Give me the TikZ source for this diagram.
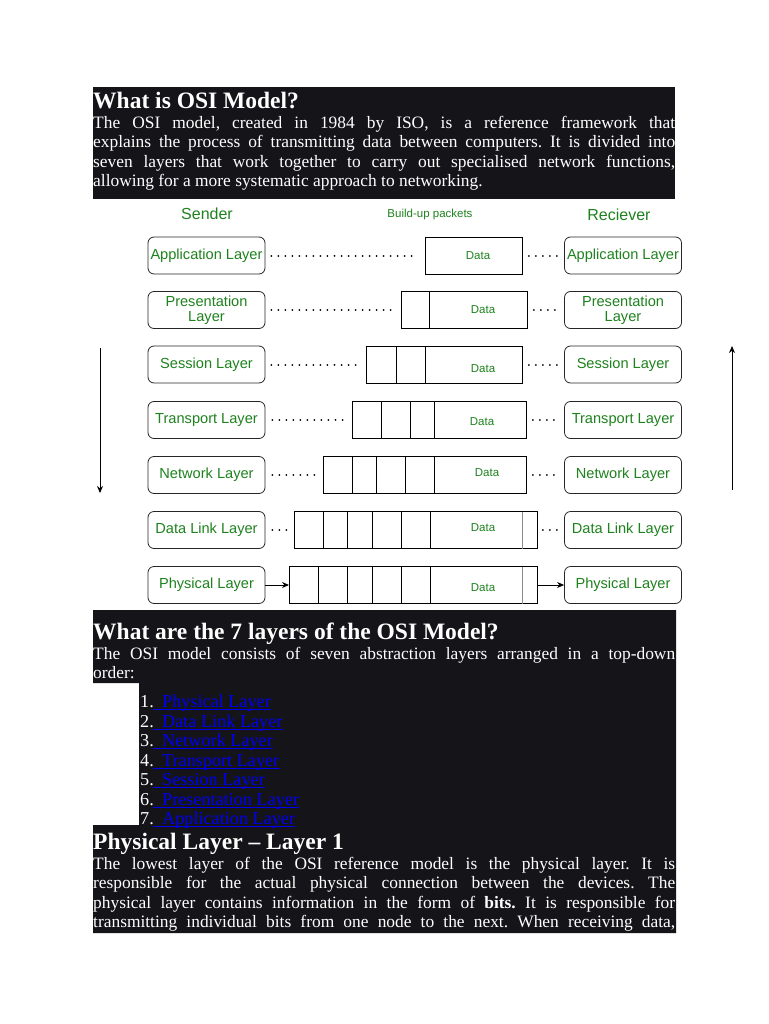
\documentclass[tikz,border=0pt]{standalone}
\usepackage{fontspec}
\setmainfont{Liberation Serif}
\newfontfamily\arialfont{Liberation Sans}
\usetikzlibrary{arrows.meta}
\definecolor{boxbg}{RGB}{21,21,25}
\definecolor{lgreen}{RGB}{30,130,30}
\definecolor{linkblue}{RGB}{0,0,240}
\frenchspacing
\begin{document}
\begin{tikzpicture}[x=1pt,y=-1pt,
  head/.style={anchor=base west, inner sep=0, text=white, font=\fontsize{23.5}{23.5}\selectfont\bfseries},
  body/.style={anchor=base west, inner sep=0, text=white, font=\fontsize{17.4}{19.5}\selectfont\frenchspacing},
  listnum/.style={anchor=base west, inner sep=0, text=white, font=\fontsize{18.2}{19.5}\selectfont},
  listlink/.style={anchor=base west, inner sep=0, text=linkblue, font=\fontsize{18.2}{19.5}\selectfont},
  uline/.style={draw=linkblue, line width=1pt},
  layerbox/.style={draw=black!85, rounded corners=6pt, minimum width=117pt, minimum height=37pt, inner sep=0, text=lgreen, font=\arialfont\fontsize{14.6}{16.5}\selectfont, align=center, line width=0.8pt},
  packet/.style={draw=black, minimum height=37pt, inner sep=0, anchor=west, line width=0.9pt},
  divider/.style={draw=black, line width=0.9pt},
  graydiv/.style={draw=black!45, line width=0.9pt},
  datalbl/.style={text=lgreen, font=\arialfont\fontsize{11.5}{13}\selectfont, inner sep=0},
  toplbl/.style={text=lgreen, font=\arialfont\fontsize{16}{18}\selectfont, inner sep=0},
  dots/.style={line width=2pt, line cap=round, dash pattern=on 0.01pt off 7pt},
  arr/.style={line width=0.9pt, -{Stealth[length=7pt,width=6pt]}}
]
\useasboundingbox (0,0) rectangle (768,1024);
\fill[white] (0,0) rectangle (768,1024);

% ---------- Box 1 ----------
\fill[boxbg] (93,87) rectangle (675,199);
\node[head] (h1) at (93,109) {What is OSI Model?};
\node[body] (b11) at (93,128.5) {\makebox[582pt][s]{The OSI model, created in 1984 by ISO, is a reference framework that}};
\node[body] (b12) at (93,148) {\makebox[582pt][s]{explains the process of transmitting data between computers. It is divided into}};
\node[body] (b13) at (93,167.5) {\makebox[582pt][s]{seven layers that work together to carry out specialised network functions,}};
\node[body] (b14) at (93,187) {allowing for a more systematic approach to networking.};

% ---------- Diagram ----------
\node[toplbl] (sender) at (207,214) {Sender};
\node[datalbl] (build) at (430,215) {Build-up packets};
\node[toplbl] (recv) at (619,215) {Reciever};

% layer boxes
\node[layerbox] (L1) at (206.5,255.5) {Application Layer};
\node[layerbox] (L2) at (206.5,310) {Presentation\\[-1.5pt]Layer};
\node[layerbox] (L3) at (206.5,364.5) {Session Layer};
\node[layerbox] (L4) at (206.5,420) {Transport Layer};
\node[layerbox] (L5) at (206.5,475) {Network Layer};
\node[layerbox] (L6) at (206.5,530) {Data Link Layer};
\node[layerbox] (L7) at (206.5,585) {Physical Layer};

\node[layerbox] (R1) at (623,255.5) {Application Layer};
\node[layerbox] (R2) at (623,310) {Presentation\\[-1.5pt]Layer};
\node[layerbox] (R3) at (623,364.5) {Session Layer};
\node[layerbox] (R4) at (623,420) {Transport Layer};
\node[layerbox] (R5) at (623,475) {Network Layer};
\node[layerbox] (R6) at (623,530) {Data Link Layer};
\node[layerbox] (R7) at (623,585) {Physical Layer};

% packets
\node[packet, minimum width=97pt] (P1) at (425,255.5) {};
\node[packet, minimum width=126pt] (P2) at (401,310) {};
\node[packet, minimum width=156pt] (P3) at (366,364.5) {};
\node[packet, minimum width=174pt] (P4) at (352,420) {};
\node[packet, minimum width=203pt] (P5) at (323,475) {};
\node[packet, minimum width=243pt] (P6) at (294,530) {};
\node[packet, minimum width=248pt] (P7) at (289,585) {};

% dividers
\draw[divider] (429,291.5) -- (429,328.5);
\foreach \x in {396,425} \draw[divider] (\x,346) -- (\x,383);
\foreach \x in {381,410,434} \draw[divider] (\x,401.5) -- (\x,438.5);
\foreach \x in {352,376,405,434} \draw[divider] (\x,456.5) -- (\x,493.5);
\foreach \x in {323,347,372,401,430} \draw[divider] (\x,511.5) -- (\x,548.5);
\draw[graydiv] (522,511.5) -- (522,548.5);
\foreach \x in {318,347,372,401,430} \draw[divider] (\x,566.5) -- (\x,603.5);
\draw[graydiv] (522,566.5) -- (522,603.5);

% data labels
\node[datalbl] (d1) at (478,256) {Data};
\node[datalbl] (d2) at (483,310) {Data};
\node[datalbl] (d3) at (483,369) {Data};
\node[datalbl] (d4) at (482,422) {Data};
\node[datalbl] (d5) at (487,473) {Data};
\node[datalbl] (d6) at (483,528) {Data};
\node[datalbl] (d7) at (483,588) {Data};

% dotted connectors
\draw[dots, shorten <=6pt, shorten >=9pt] (L1) -- (P1);
\draw[dots, shorten <=6pt, shorten >=8pt] (L2) -- (P2);
\draw[dots, shorten <=6pt, shorten >=7pt] (L3) -- (P3);
\draw[dots, shorten <=7pt, shorten >=9pt] (L4) -- (P4);
\draw[dots, shorten <=7pt, shorten >=4pt] (L5) -- (P5);
\draw[dots, shorten <=7pt, shorten >=4pt] (L6) -- (P6);
\draw[dots, shorten <=6pt, shorten >=4pt] (P1) -- (R1);
\draw[dots, shorten <=6pt, shorten >=4pt] (P2) -- (R2);
\draw[dots, shorten <=6pt, shorten >=4pt] (P3) -- (R3);
\draw[dots, shorten <=6pt, shorten >=4pt] (P4) -- (R4);
\draw[dots, shorten <=6pt, shorten >=4pt] (P5) -- (R5);
\draw[dots, shorten <=5pt, shorten >=3pt] (P6) -- (R6);
% physical arrows
\draw[arr] (L7) -- (P7);
\draw[arr] (P7) -- (R7);

% vertical arrows
\coordinate (la) at (100,348);
\coordinate (lb) at (100,493);
\coordinate (ra) at (732,490);
\coordinate (rb) at (732,346);
\draw[arr] (la) -- (lb);
\draw[arr] (ra) -- (rb);

% ---------- Box 2 + 3 ----------
\fill[boxbg] (93,610) -- (676,610) -- (676,933) -- (93,933) -- (93,825) -- (139,825) -- (139,683) -- (93,683) -- cycle;
\node[head] (h2) at (93,639) {What are the 7 layers of the OSI Model?};
\node[body] (b21) at (93,659) {\makebox[582pt][s]{The OSI model consists of seven abstraction layers arranged in a top-down}};
\node[body] (b22) at (93,678.5) {order:};

\node[listnum] (n1) at (140,707.5) {1.};
\node[listlink] (k1) at (162,707.5) {Physical Layer};
\node[listnum] (n2) at (140,727) {2.};
\node[listlink] (k2) at (162,727) {Data Link Layer};
\node[listnum] (n3) at (140,746.5) {3.};
\node[listlink] (k3) at (162,746.5) {Network Layer};
\node[listnum] (n4) at (140,766) {4.};
\node[listlink] (k4) at (162,766) {Transport Layer};
\node[listnum] (n5) at (140,785.5) {5.};
\node[listlink] (k5) at (162,785.5) {Session Layer};
\node[listnum] (n6) at (140,805) {6.};
\node[listlink] (k6) at (162,805) {Presentation Layer};
\node[listnum] (n7) at (140,824.5) {7.};
\node[listlink] (k7) at (162,824.5) {Application Layer};
\draw[uline] (153,709.5) -- ([yshift=-2pt]k1.base east);
\draw[uline] (153,729) -- ([yshift=-2pt]k2.base east);
\draw[uline] (153,748.5) -- ([yshift=-2pt]k3.base east);
\draw[uline] (153,768) -- ([yshift=-2pt]k4.base east);
\draw[uline] (153,787.5) -- ([yshift=-2pt]k5.base east);
\draw[uline] (153,807) -- ([yshift=-2pt]k6.base east);
\draw[uline] (153,826.5) -- ([yshift=-2pt]k7.base east);

\node[head] (h3) at (93,849) {Physical Layer -- Layer 1};
\node[body] (b31) at (93,869) {\makebox[582pt][s]{The lowest layer of the OSI reference model is the physical layer. It is}};
\node[body] (b32) at (93,888.5) {\makebox[582pt][s]{responsible for the actual physical connection between the devices. The}};
\node[body] (b33) at (93,908) {\makebox[582pt][s]{physical layer contains information in the form of \textbf{bits.} It is responsible for}};
\node[body] (b34) at (93,927.5) {\makebox[582pt][s]{transmitting individual bits from one node to the next. When receiving data,}};
\end{tikzpicture}
\end{document}
